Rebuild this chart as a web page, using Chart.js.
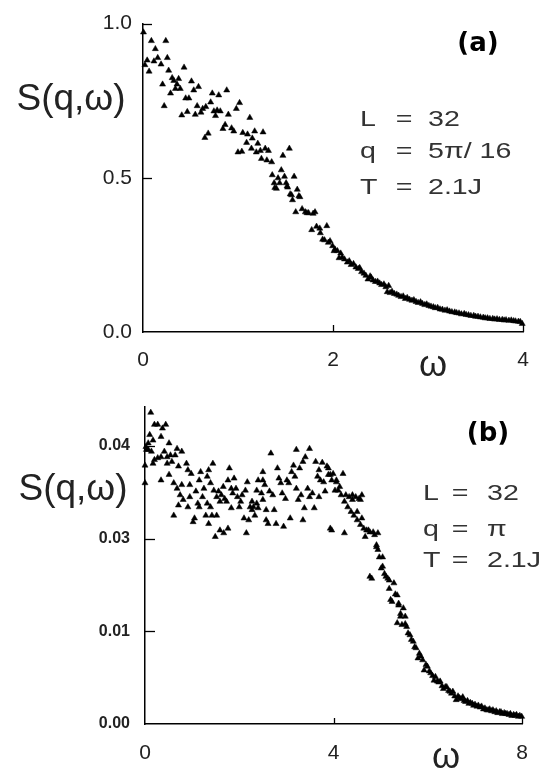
<!DOCTYPE html>
<html>
<head>
<meta charset="utf-8">
<script src="https://cdn.jsdelivr.net/npm/chart.js@4.4.1/dist/chart.umd.min.js"></script>
<style>
  html, body { margin: 0; padding: 0; background: #fff; }
  #wrap { position: relative; width: 545px; height: 769px; }
  #ca { position: absolute; left: 0; top: 0; }
  #cb { position: absolute; left: 0; top: 380px; }
</style>
</head>
<body>
<div id="wrap">
  <canvas id="ca" width="545" height="380" style="width:545px;height:380px"></canvas>
  <canvas id="cb" width="545" height="389" style="width:545px;height:389px"></canvas>
</div>
<script>
// panel (a): q = 5pi/16, omega vs S(q,omega)
const pointsA = [
  [0.005,0.972],[0.02,0.866],[0.044,0.881],[0.064,0.845],[0.088,0.944],[0.115,0.878],[0.13,0.918],
  [0.155,0.889],[0.19,0.868],[0.206,0.803],[0.223,0.733],[0.24,0.944],[0.256,0.889],[0.27,0.848],
  [0.29,0.774],[0.307,0.824],[0.324,0.815],[0.341,0.789],[0.358,0.803],[0.375,0.821],[0.392,0.789],
  [0.408,0.703],[0.432,0.858],[0.449,0.758],[0.466,0.714],[0.483,0.758],[0.51,0.813],[0.534,0.784],
  [0.55,0.705],[0.57,0.733],[0.584,0.795],[0.61,0.712],[0.628,0.724],[0.651,0.630],[0.661,0.730],
  [0.686,0.644],[0.712,0.745],[0.729,0.774],[0.746,0.716],[0.763,0.701],[0.78,0.719],[0.797,0.768],
  [0.813,0.716],[0.841,0.659],[0.864,0.672],[0.881,0.784],[0.898,0.705],[0.932,0.661],[0.955,0.651],
  [0.982,0.724],[0.999,0.583],[1.016,0.743],[1.04,0.585],[1.05,0.646],[1.09,0.614],[1.10,0.641],
  [1.124,0.695],[1.141,0.595],[1.15,0.628],[1.175,0.651],[1.192,0.583],[1.208,0.611],[1.235,0.588],
  [1.246,0.562],[1.263,0.648],[1.286,0.595],[1.303,0.557],[1.32,0.588],[1.354,0.551],[1.36,0.509],
  [1.38,0.483],[1.387,0.468],[1.404,0.465],[1.421,0.499],[1.438,0.483],[1.455,0.525],[1.472,0.572],
  [1.489,0.504],[1.506,0.483],[1.516,0.473],[1.522,0.469],[1.54,0.595],[1.549,0.447],[1.563,0.444],
  [1.573,0.428],[1.59,0.504],[1.607,0.389],[1.623,0.462],[1.64,0.441],[1.651,0.438],[1.674,0.399],
  [1.708,0.389],[1.725,0.386],[1.742,0.386],[1.775,0.331],[1.79,0.384],[1.81,0.389],[1.826,0.342],
  [1.86,0.336],[1.866,0.321],[1.89,0.300],[1.91,0.298],[1.934,0.344],[1.95,0.290],[1.968,0.295],
  [1.995,0.279],[2.01,0.263],[2.02,0.268],[2.046,0.263],[2.063,0.240],[2.08,0.255],[2.096,0.242],
  [2.12,0.236],[2.15,0.226],[2.17,0.230],[2.19,0.218],[2.215,0.221],[2.24,0.210],[2.265,0.205],
  [2.28,0.208],[2.30,0.195],[2.325,0.190],[2.345,0.183],[2.367,0.171],[2.39,0.181],[2.40,0.177],
  [2.42,0.168],[2.445,0.163],[2.468,0.164],[2.49,0.158],[2.51,0.153],[2.535,0.155],[2.555,0.146],
  [2.57,0.130],[2.585,0.150],[2.60,0.127],[2.62,0.131],[2.645,0.124],[2.67,0.122],[2.69,0.118],
  [2.715,0.114],[2.738,0.116],[2.76,0.108],[2.78,0.111],[2.805,0.105],[2.83,0.102],[2.85,0.104],
  [2.873,0.098],[2.895,0.095],[2.92,0.097],[2.94,0.092],[2.965,0.088],[2.985,0.090],[3.008,0.085],
  [3.03,0.083],[3.055,0.081],[3.075,0.078],[3.10,0.079],[3.125,0.074],[3.15,0.073],[3.177,0.070],
  [3.20,0.071],[3.225,0.067],[3.25,0.065],[3.28,0.064],[3.30,0.062],[3.325,0.061],[3.35,0.058],
  [3.38,0.059],[3.40,0.056],[3.425,0.055],[3.45,0.053],[3.48,0.053],[3.50,0.050],[3.525,0.050],
  [3.55,0.048],[3.58,0.047],[3.60,0.045],[3.625,0.045],[3.65,0.043],[3.68,0.043],[3.70,0.041],
  [3.725,0.042],[3.75,0.040],[3.78,0.040],[3.80,0.038],[3.82,0.039],[3.85,0.037],[3.875,0.038],
  [3.90,0.036],[3.92,0.035],[3.95,0.034],[3.97,0.033],[3.99,0.027]
];

// panel (b): q = pi  (y in axis units, ticks relabelled below)
const pointsB = [
  [0.00,0.0279],[0.00,0.0260],[0.02,0.0299],[0.03,0.0296],[0.068,0.0303],[0.07,0.0296],[0.10,0.0312],
  [0.122,0.0336],[0.136,0.0294],[0.17,0.0306],[0.17,0.0281],[0.20,0.0323],[0.20,0.0285],[0.27,0.0323],
  [0.27,0.0287],[0.34,0.0310],[0.34,0.0288],[0.34,0.0263],[0.37,0.0319],[0.41,0.0294],[0.44,0.0323],
  [0.47,0.0288],[0.47,0.0281],[0.51,0.0303],[0.51,0.0269],[0.54,0.0290],[0.57,0.0283],[0.61,0.0260],
  [0.61,0.0225],[0.64,0.0290],[0.68,0.0297],[0.68,0.0254],[0.71,0.0278],[0.71,0.0236],[0.745,0.0247],
  [0.78,0.0294],[0.78,0.0258],[0.81,0.0242],[0.88,0.0281],[0.91,0.0274],[0.91,0.0234],[0.95,0.0258],
  [0.95,0.0245],[0.98,0.0270],[1.02,0.0218],[1.05,0.0222],[1.08,0.0251],[1.12,0.0238],[1.15,0.0263],
  [1.15,0.0234],[1.18,0.0272],[1.22,0.0245],[1.25,0.0254],[1.29,0.0225],[1.32,0.0267],[1.32,0.0238],
  [1.35,0.0274],[1.35,0.0216],[1.39,0.0260],[1.39,0.0234],[1.42,0.0225],[1.44,0.0281],[1.46,0.0252],
  [1.49,0.0202],[1.52,0.0245],[1.52,0.0225],[1.56,0.0251],[1.59,0.0240],[1.59,0.0209],[1.62,0.0247],
  [1.66,0.0256],[1.67,0.0206],[1.69,0.0243],[1.73,0.0240],[1.76,0.0263],[1.76,0.0211],[1.79,0.0276],
  [1.83,0.0254],[1.83,0.0233],[1.86,0.0249],[1.89,0.0265],[1.93,0.0254],[1.96,0.0245],[2.00,0.0234],
  [2.03,0.0240],[2.06,0.0247],[2.10,0.0222],[2.13,0.0252],[2.15,0.0206],[2.17,0.0261],[2.20,0.0220],
  [2.23,0.0234],[2.27,0.0240],[2.27,0.0231],[2.30,0.0234],[2.33,0.0225],[2.37,0.0252],[2.37,0.0238],
  [2.40,0.0263],[2.40,0.0233],[2.47,0.0249],[2.50,0.0272],[2.50,0.0263],[2.50,0.0242],[2.54,0.0258],
  [2.57,0.0231],[2.57,0.0220],[2.61,0.0216],[2.64,0.0251],[2.67,0.0292],[2.71,0.0247],[2.74,0.0231],
  [2.78,0.0216],[2.81,0.0276],[2.84,0.0265],[2.88,0.0260],[2.91,0.0249],[2.94,0.0213],[2.98,0.0243],
  [3.01,0.0263],[3.05,0.0260],[3.08,0.0222],[3.11,0.0272],[3.15,0.0279],[3.18,0.0267],[3.21,0.0296],
  [3.21,0.0254],[3.25,0.0242],[3.28,0.0276],[3.31,0.0247],[3.35,0.0283],[3.35,0.0220],[3.40,0.0288],
  [3.38,0.0233],[3.45,0.0254],[3.49,0.0297],[3.49,0.0245],[3.55,0.0249],[3.59,0.0233],[3.62,0.0283],
  [3.66,0.0267],[3.69,0.0274],[3.69,0.0245],[3.72,0.0263],[3.76,0.0282],[3.79,0.0261],[3.82,0.0251],
  [3.86,0.0278],[3.89,0.0276],[3.89,0.0269],[3.93,0.0269],[3.93,0.0211],[3.96,0.0263],[3.96,0.0209],
  [3.99,0.0270],[4.03,0.0252],[4.06,0.0263],[4.06,0.0261],[4.10,0.0252],[4.13,0.0256],[4.16,0.0247],
  [4.20,0.0270],[4.23,0.0240],[4.23,0.0206],[4.26,0.0247],[4.30,0.0234],[4.33,0.0245],[4.37,0.0229],
  [4.40,0.0247],[4.40,0.0242],[4.43,0.0225],[4.47,0.0245],[4.50,0.0229],[4.50,0.0220],[4.54,0.0243],
  [4.57,0.0242],[4.57,0.0215],[4.60,0.0247],[4.60,0.0222],[4.64,0.0211],[4.67,0.0202],[4.70,0.0209],
  [4.74,0.0209],[4.77,0.0207],[4.77,0.0159],[4.81,0.0157],[4.84,0.0207],[4.87,0.0204],[4.91,0.0193],
  [4.91,0.0191],[4.94,0.0206],[4.94,0.0188],[4.97,0.0180],[5.01,0.0168],[5.04,0.0180],[5.04,0.0170],
  [5.08,0.0162],[5.11,0.0159],[5.15,0.0157],[5.18,0.0155],[5.18,0.0146],[5.21,0.0134],[5.24,0.0132],
  [5.28,0.0152],[5.31,0.0140],[5.35,0.0139],[5.35,0.0109],[5.38,0.0130],[5.38,0.0128],[5.42,0.0119],
  [5.42,0.0116],[5.45,0.0107],[5.48,0.0125],[5.52,0.0116],[5.52,0.0108],[5.55,0.0105],[5.58,0.0098],
  [5.62,0.0096],[5.65,0.0091],[5.69,0.0089],[5.72,0.0083],[5.75,0.0082],[5.79,0.0071],[5.82,0.0076],
  [5.85,0.0073],[5.89,0.0069],[5.92,0.0058],[5.96,0.0064],[5.99,0.0062],[6.03,0.0057],[6.06,0.0055],
  [6.10,0.0052],[6.13,0.0047],[6.16,0.0051],[6.20,0.0046],[6.23,0.0045],[6.26,0.0046],[6.30,0.0041],
  [6.33,0.0038],[6.37,0.0040],[6.40,0.0040],[6.44,0.0036],[6.47,0.0035],[6.50,0.0033],[6.53,0.0035],
  [6.57,0.0030],[6.60,0.0026],[6.64,0.0030],[6.67,0.0028],[6.70,0.0027],[6.74,0.0029],[6.77,0.0025],
  [6.80,0.0024],[6.84,0.0025],[6.87,0.0022],[6.90,0.0023],[6.94,0.0022],[6.97,0.0020],[7.00,0.0021],
  [7.04,0.0019],[7.07,0.0020],[7.11,0.0018],[7.14,0.0019],[7.18,0.0016],[7.21,0.0017],[7.25,0.0015],
  [7.28,0.0015],[7.31,0.0016],[7.35,0.0014],[7.38,0.0015],[7.42,0.0013],[7.45,0.0014],[7.48,0.0012],
  [7.52,0.0013],[7.55,0.0013],[7.58,0.0011],[7.62,0.0012],[7.65,0.0011],[7.68,0.0011],[7.72,0.0010],
  [7.75,0.0011],[7.78,0.0009],[7.82,0.0010],[7.85,0.0009],[7.88,0.0010],[7.92,0.0008],[7.95,0.0009],
  [7.99,0.0008]
];

const xTicksA = [0, 2, 4];
const xLabelsA = ['0', '2', '4'];
const yTicksA = [0, 0.5, 1.0];
const yLabelsA = ['0.0', '0.5', '1.0'];

const xTicksB = [0, 4, 8];
const xLabelsB = ['0', '4', '8'];
const yTicksB = [0, 0.01, 0.02, 0.03];
const yLabelsB = ['0.00', '0.01', '0.03', '0.04'];   // as printed on the figure

const paramsA = [['L', '32'], ['q', '5π/ 16'], ['T', '2.1J']];
const paramsB = [['L', '32'], ['q', 'π'], ['T', '2.1J']];

const SANS = '"Liberation Sans", Arial, sans-serif';

// small inward tick marks, like the original plot
const inTicks = {
  id: 'inTicks',
  afterDraw(chart, args, o) {
    const ctx = chart.ctx, x = chart.scales.x, y = chart.scales.y;
    ctx.save();
    ctx.strokeStyle = '#000';
    ctx.lineWidth = 1.3;
    y.ticks.forEach(t => {
      if (t.value === 0) return;
      const py = Math.round(y.getPixelForValue(t.value)) + 0.5;
      ctx.beginPath(); ctx.moveTo(x.left, py); ctx.lineTo(x.left + o.ylen, py); ctx.stroke();
    });
    x.ticks.forEach(t => {
      if (t.value === 0) return;
      const px = Math.round(x.getPixelForValue(t.value)) + 0.5;
      ctx.beginPath(); ctx.moveTo(px, y.bottom); ctx.lineTo(px, y.bottom - o.xlen); ctx.stroke();
    });
    ctx.restore();
  }
};

function stretchText(ctx, s, x, y, sx, align) {
  ctx.save();
  ctx.translate(x, y);
  ctx.scale(sx, 1);
  ctx.textAlign = align;
  ctx.fillText(s, 0, 0);
  ctx.restore();
}

// labels that sit inside the figure
const notes = {
  id: 'notes',
  afterDraw(chart, args, o) {
    const ctx = chart.ctx;
    ctx.save();
    ctx.fillStyle = '#222';
    ctx.textBaseline = 'middle';
    ctx.font = '37px ' + SANS;
    ctx.textAlign = 'center';
    ctx.fillText('S(q,ω)', o.sx, o.sy);
    ctx.font = '36px ' + SANS;
    ctx.fillText('ω', o.wx, o.wy);
    ctx.font = 'bold 26px "DejaVu Sans", sans-serif';
    ctx.fillStyle = '#000';
    ctx.fillText(o.tag, o.tx, o.ty);
    ctx.fillStyle = '#333';
    ctx.font = '22px ' + SANS;
    o.params.forEach((p, i) => {
      const yy = o.rows[i];
      stretchText(ctx, p[0], o.c1, yy, 1.3, 'left');
      stretchText(ctx, '=', o.c2, yy, 1.3, 'center');
      stretchText(ctx, p[1], o.c3, yy, 1.3, 'left');
    });
    ctx.restore();
  }
};

function panel(id, pts, xT, xL, yT, yL, xMax, yMax, pad, yw, xh, yFont, yPad, xPad, ticksLen, note) {
  return new Chart(document.getElementById(id), {
    type: 'scatter',
    data: {
      datasets: [{
        data: pts.map(p => ({ x: p[0], y: p[1] })),
        pointStyle: 'triangle',
        radius: 3.5,
        backgroundColor: '#000',
        borderColor: '#000',
        borderWidth: 0.5,
        clip: false
      }]
    },
    options: {
      responsive: false,
      animation: false,
      events: [],
      layout: { padding: pad },
      plugins: { legend: { display: false }, tooltip: { enabled: false }, inTicks: ticksLen, notes: note },
      scales: {
        x: {
          type: 'linear', min: 0, max: xMax,
          afterBuildTicks: s => { s.ticks = xT.map(v => ({ value: v })); },
          afterFit: s => { s.height = xh; },
          grid: { display: false, drawTicks: false },
          border: { display: true, color: '#000', width: 1.5 },
          ticks: {
            callback: (v, i) => xL[i],
            font: { family: SANS, size: 21 }, color: '#222', padding: xPad, maxRotation: 0
          }
        },
        y: {
          type: 'linear', min: 0, max: yMax,
          afterBuildTicks: s => { s.ticks = yT.map(v => ({ value: v })); },
          afterFit: s => { s.width = yw; },
          grid: { display: false, drawTicks: false },
          border: { display: true, color: '#000', width: 1.5 },
          ticks: {
            callback: (v, i) => yL[i],
            font: yFont, color: '#222', padding: yPad
          }
        }
      }
    },
    plugins: [inTicks, notes]
  });
}

panel('ca', pointsA, xTicksA, xLabelsA, yTicksA, yLabelsA, 4, 1.0,
  { top: 14, right: 7, left: 0, bottom: 0 }, 143, 48,
  { family: SANS, size: 21 }, 11, 16, { ylen: 9, xlen: 7 },
  { sx: 71, sy: 100, wx: 433, wy: 366, tag: '(a)', tx: 478, ty: 44,
    params: paramsA, rows: [120, 152, 188], c1: 360, c2: 404, c3: 428 });

panel('cb', pointsB, xTicksB, xLabelsB, yTicksB, yLabelsB, 8, 0.0342,
  { top: 27, right: 6, left: 0, bottom: 0 }, 145, 45,
  { family: SANS, size: 16, weight: 'bold' }, 15, 17, { ylen: 10, xlen: 6 },
  { sx: 73, sy: 110, wx: 446, wy: 378, tag: '(b)', tx: 488, ty: 54,
    params: paramsB, rows: [114, 150, 181], c1: 423, c2: 460, c3: 487 });
</script>
</body>
</html>
